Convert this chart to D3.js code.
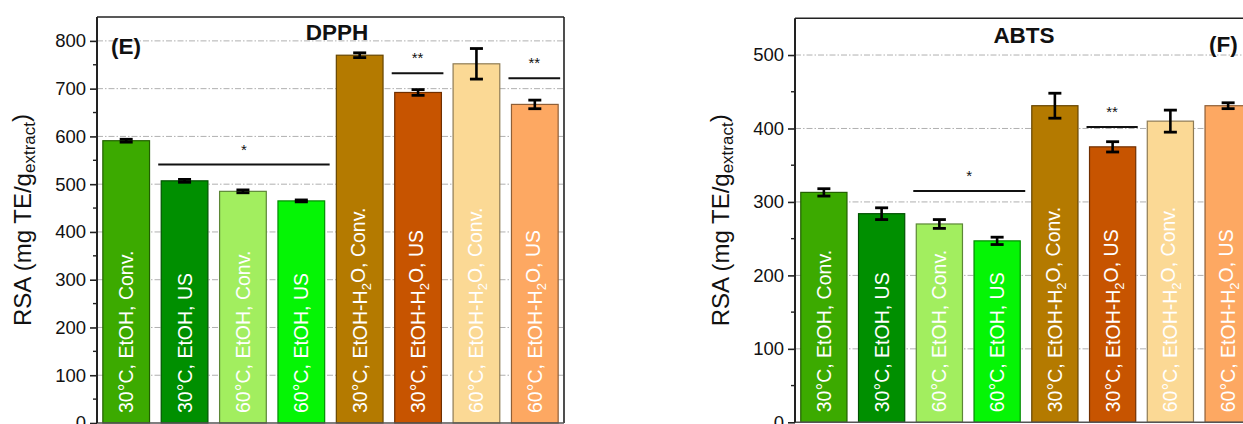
<!DOCTYPE html>
<html>
<head>
<meta charset="utf-8">
<script src="https://cdn.jsdelivr.net/npm/d3@7"></script>
<style>
  html, body { margin: 0; padding: 0; background: #fff; }
  svg { display: block; font-family: "Liberation Sans", Arial, sans-serif; }
</style>
</head>
<body>
<svg id="chart" width="1243" height="424"></svg>
<script>
// ---------- DATA ----------
const categories = [
  "30°C, EtOH, Conv.", "30°C, EtOH, US", "60°C, EtOH, Conv.", "60°C, EtOH, US",
  "30°C, EtOH-H2O, Conv.", "30°C, EtOH-H2O, US", "60°C, EtOH-H2O, Conv.", "60°C, EtOH-H2O, US"
];
const barColors = ["#3caa00", "#008f00", "#a2ee5f", "#05f505", "#b47a00", "#c75400", "#fbd995", "#fda862"];

const dpphValues = [591, 507, 485, 465, 770, 692, 752, 667];
const dpphErrors = [3, 3, 3, 2, 5, 6, 32, 9];
const dpphTicks = [0, 100, 200, 300, 400, 500, 600, 700, 800];
const dpphMinorTicks = [50, 150, 250, 350, 450, 550, 650, 750];
// significance brackets: [fromIndex, toIndex, value, label]
const dpphSig = [[1, 3, 541, "*"], [5, 5, 732, "**"], [7, 7, 722, "**"]];

const abtsValues = [313, 284, 270, 247, 431, 375, 410, 431];
const abtsErrors = [5, 8, 6, 5, 17, 7, 15, 4];
const abtsTicks = [0, 100, 200, 300, 400, 500];
const abtsMinorTicks = [50, 150, 250, 350, 450];
const abtsSig = [[2, 3, 315, "*"], [5, 5, 402, "**"]];

const axisLabelMain = "RSA (mg TE/g";
const axisLabelSub = "extract";

// ---------- DRAW ----------
const svg = d3.select("#chart");

function panel(opt) {
  const g = svg.append("g");
  const x = d3.scaleBand().domain(d3.range(categories.length))
    .range([opt.x0, opt.x1]).paddingInner(0.2).paddingOuter(0.1);
  const y = d3.scaleLinear().domain(opt.domain).range([opt.yBottom, opt.yTop]);

  // grid lines
  g.append("g").selectAll("line").data(opt.ticks.filter(t => t > 0)).join("line")
    .attr("x1", opt.x0).attr("x2", opt.x1)
    .attr("y1", d => y(d)).attr("y2", d => y(d))
    .attr("stroke", "#b0b0b0").attr("stroke-width", 1)
    .attr("stroke-dasharray", "6,2,1.5,2");

  // bars
  g.append("g").selectAll("rect").data(opt.values).join("rect")
    .attr("x", (d, i) => x(i)).attr("width", x.bandwidth())
    .attr("y", d => y(d)).attr("height", d => y(0) - y(d))
    .attr("fill", (d, i) => barColors[i])
    .attr("stroke", (d, i) => d3.color(barColors[i]).darker(1.6))
    .attr("stroke-width", 1.2);

  // bar labels
  const lab = g.append("g").selectAll("text").data(categories).join("text")
    .attr("transform", (d, i) => `translate(${x(i) + x.bandwidth() / 2},${y(0) - 10}) rotate(-90)`)
    .attr("dy", "0.36em")
    .attr("fill", "#fff")
    .attr("font-size", 19.5)
    .attr("text-anchor", "start");
  lab.each(function (d) {
    const t = d3.select(this);
    if (d.includes("H2O")) {
      const [a, b] = d.split("H2O");
      t.append("tspan").text(a + "H");
      t.append("tspan").text("2").attr("font-size", 13).attr("dy", "0.3em");
      t.append("tspan").text("O" + b).attr("dy", "-0.3em");
    } else {
      t.text(d);
    }
  });

  // error bars
  const eb = g.append("g").attr("stroke", "#000");
  opt.values.forEach((v, i) => {
    const cx = x(i) + x.bandwidth() / 2;
    const e = opt.errors[i];
    eb.append("line").attr("x1", cx).attr("x2", cx)
      .attr("y1", y(v + e)).attr("y2", y(v - e)).attr("stroke-width", 2.6);
    [v + e, v - e].forEach(yv => {
      eb.append("line").attr("x1", cx - 6.5).attr("x2", cx + 6.5)
        .attr("y1", y(yv)).attr("y2", y(yv)).attr("stroke-width", 2.8);
    });
  });

  // significance
  opt.sig.forEach(([a, b, v, lbl]) => {
    const xa = x(a) - 3, xb = x(b) + x.bandwidth() + (a === b ? 2 : 5);
    g.append("line").attr("x1", xa).attr("x2", xb).attr("y1", y(v)).attr("y2", y(v))
      .attr("stroke", "#111").attr("stroke-width", 2);
    g.append("text").attr("x", (xa + xb) / 2).attr("y", y(v) - 10)
      .attr("text-anchor", "middle").attr("font-size", 15).attr("fill", "#111").text(lbl);
  });

  // frame
  g.append("line").attr("x1", opt.x0).attr("x2", opt.x1).attr("y1", opt.yTop).attr("y2", opt.yTop)
    .attr("stroke", "#222").attr("stroke-width", 1.6);
  g.append("line").attr("x1", opt.x1).attr("x2", opt.x1).attr("y1", opt.yTop).attr("y2", opt.yBottom)
    .attr("stroke", "#222").attr("stroke-width", 1.6);
  g.append("line").attr("x1", opt.x0).attr("x2", opt.x1).attr("y1", opt.yBottom).attr("y2", opt.yBottom)
    .attr("stroke", "#555").attr("stroke-width", 1.6);

  // y axis
  const axis = d3.axisLeft(y).tickValues(opt.ticks).tickSize(7).tickPadding(4).tickFormat(d3.format("d"));
  const ag = g.append("g").attr("transform", `translate(${opt.x0},0)`).call(axis);
  ag.select(".domain").attr("stroke", "#222").attr("stroke-width", 2)
    .attr("d", `M0,${opt.yTop}V${opt.yBottom}`);
  ag.selectAll(".tick line").attr("stroke", "#222").attr("stroke-width", 1.6);
  ag.selectAll(".tick text").attr("font-size", 18.5).attr("fill", "#111")
    .attr("font-family", "Liberation Sans, Arial, sans-serif");
  g.append("g").selectAll("line").data(opt.minor).join("line")
    .attr("x1", opt.x0 - 4).attr("x2", opt.x0)
    .attr("y1", d => y(d)).attr("y2", d => y(d))
    .attr("stroke", "#222").attr("stroke-width", 1.4);

  // axis title
  const yt = g.append("text")
    .attr("transform", `translate(${opt.labelX},${(opt.yTop + opt.yBottom) / 2}) rotate(-90)`)
    .attr("text-anchor", "middle").attr("font-size", 24).attr("fill", "#111");
  yt.append("tspan").text(axisLabelMain);
  yt.append("tspan").text(axisLabelSub).attr("font-size", 17).attr("dy", "0.25em");
  yt.append("tspan").text(")").attr("dy", "-0.25em");

  // titles
  g.append("text").attr("x", opt.titleX).attr("y", opt.titleY).attr("text-anchor", "middle")
    .attr("font-size", 22.5).attr("font-weight", "bold").attr("fill", "#111").text(opt.title);
  g.append("text").attr("x", opt.tagX).attr("y", opt.tagY).attr("text-anchor", "start")
    .attr("font-size", 22.5).attr("font-weight", "bold").attr("fill", "#111").text(opt.tag);
}

panel({
  x0: 97, x1: 564, yTop: 17, yBottom: 423, domain: [0, 850],
  values: dpphValues, errors: dpphErrors, ticks: dpphTicks, minor: dpphMinorTicks, sig: dpphSig,
  labelX: 31, title: "DPPH", titleX: 337, titleY: 40, tag: "(E)", tagX: 111, tagY: 54
});
panel({
  x0: 795, x1: 1257, yTop: 18.3, yBottom: 422.3, domain: [0, 550],
  values: abtsValues, errors: abtsErrors, ticks: abtsTicks, minor: abtsMinorTicks, sig: abtsSig,
  labelX: 729, title: "ABTS", titleX: 1024, titleY: 43, tag: "(F)", tagX: 1209, tagY: 52
});
</script>
</body>
</html>
